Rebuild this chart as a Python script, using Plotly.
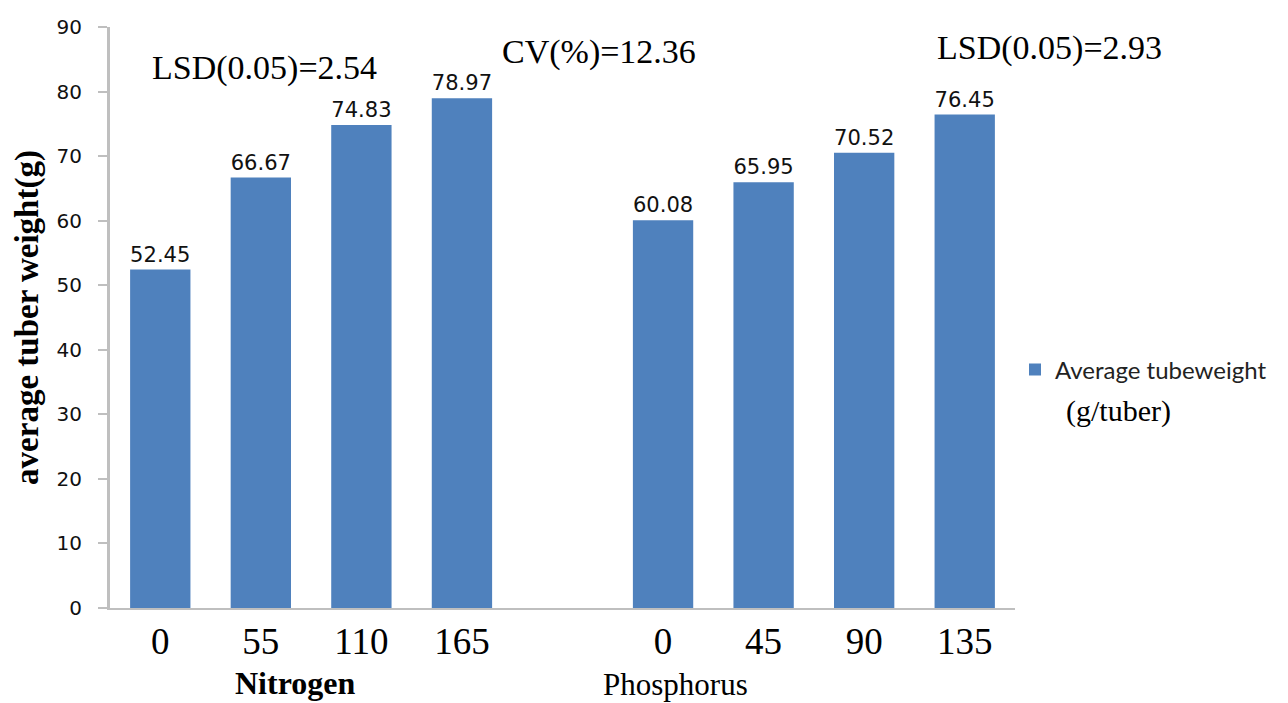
import plotly.graph_objects as go

# Tuber weight by fertiliser rate (kg/ha), Nitrogen then Phosphorus
categories = ["N0", "N55", "N110", "N165", "gap", "P0", "P45", "P90", "P135"]
tick_labels = ["0", "55", "110", "165", "", "0", "45", "90", "135"]
tuber_weight = [52.45, 66.67, 74.83, 78.97, None, 60.08, 65.95, 70.52, 76.45]
value_text = ["52.45", "66.67", "74.83", "78.97", "", "60.08", "65.95", "70.52", "76.45"]

BAR = "#4F81BD"
AXIS = "#BFBFBF"
SERIF = "Liberation Serif"

fig = go.Figure()
fig.add_trace(go.Bar(
    x=categories,
    y=tuber_weight,
    name="Average tubeweight",
    marker=dict(color=BAR, line=dict(width=0)),
    width=0.6,
    text=value_text,
    textposition="outside",
    cliponaxis=False,
    textfont=dict(family="DejaVu Sans", size=22, color="#111"),
))

fig.update_layout(
    width=1288, height=703,
    margin=dict(l=110, r=273, t=27, b=95),
    plot_bgcolor="white", paper_bgcolor="white",
    showlegend=True,
    legend=dict(x=1.0, y=0.41, xanchor="left", yanchor="middle",
                font=dict(family="Lato", size=24, color="#222"),
                itemwidth=30, bgcolor="rgba(0,0,0,0)"),
)

fig.update_xaxes(
    type="category", categoryorder="array", categoryarray=categories,
    tickmode="array", tickvals=categories, ticktext=tick_labels,
    tickfont=dict(family=SERIF, size=37, color="black"),
    showline=True, linecolor=AXIS, linewidth=2, ticks="", showgrid=False,
)
fig.update_yaxes(
    range=[0, 90], dtick=10,
    tickfont=dict(family="DejaVu Sans", size=20, color="#111"),
    ticklabelstandoff=12,
    showline=True, linecolor=AXIS, linewidth=3, ticks="outside", ticklen=9,
    tickcolor=AXIS, tickwidth=2, showgrid=False, zeroline=False,
    title=dict(text="<b>average tuber weight(g)</b>",
               font=dict(family=SERIF, size=33, color="black"), standoff=8),
)

notes = [
    dict(text="LSD(0.05)=2.54", x=150, y=68),
    dict(text="CV(%)=12.36", x=500, y=52),
    dict(text="LSD(0.05)=2.93", x=935, y=48),
]
for n in notes:
    fig.add_annotation(text=n["text"], xref="paper", yref="paper",
                       x=(n["x"] - 110) / 905, y=(608 - n["y"]) / 581,
                       xanchor="left", yanchor="middle", showarrow=False,
                       font=dict(family=SERIF, size=34, color="black"))

fig.add_annotation(text="<b>Nitrogen</b>", xref="paper", yref="paper",
                   x=(295 - 110) / 905, y=(608 - 683) / 581, xanchor="center", yanchor="middle",
                   showarrow=False, font=dict(family=SERIF, size=32, color="black"))
fig.add_annotation(text="Phosphorus", xref="paper", yref="paper",
                   x=(675 - 110) / 905, y=(608 - 684) / 581, xanchor="center", yanchor="middle",
                   showarrow=False, font=dict(family=SERIF, size=31, color="black"))
fig.add_annotation(text="(g/tuber)", xref="paper", yref="paper",
                   x=(1064 - 110) / 905, y=(608 - 411) / 581, xanchor="left", yanchor="middle",
                   showarrow=False, font=dict(family=SERIF, size=30, color="black"))

fig.write_html("out.html")
